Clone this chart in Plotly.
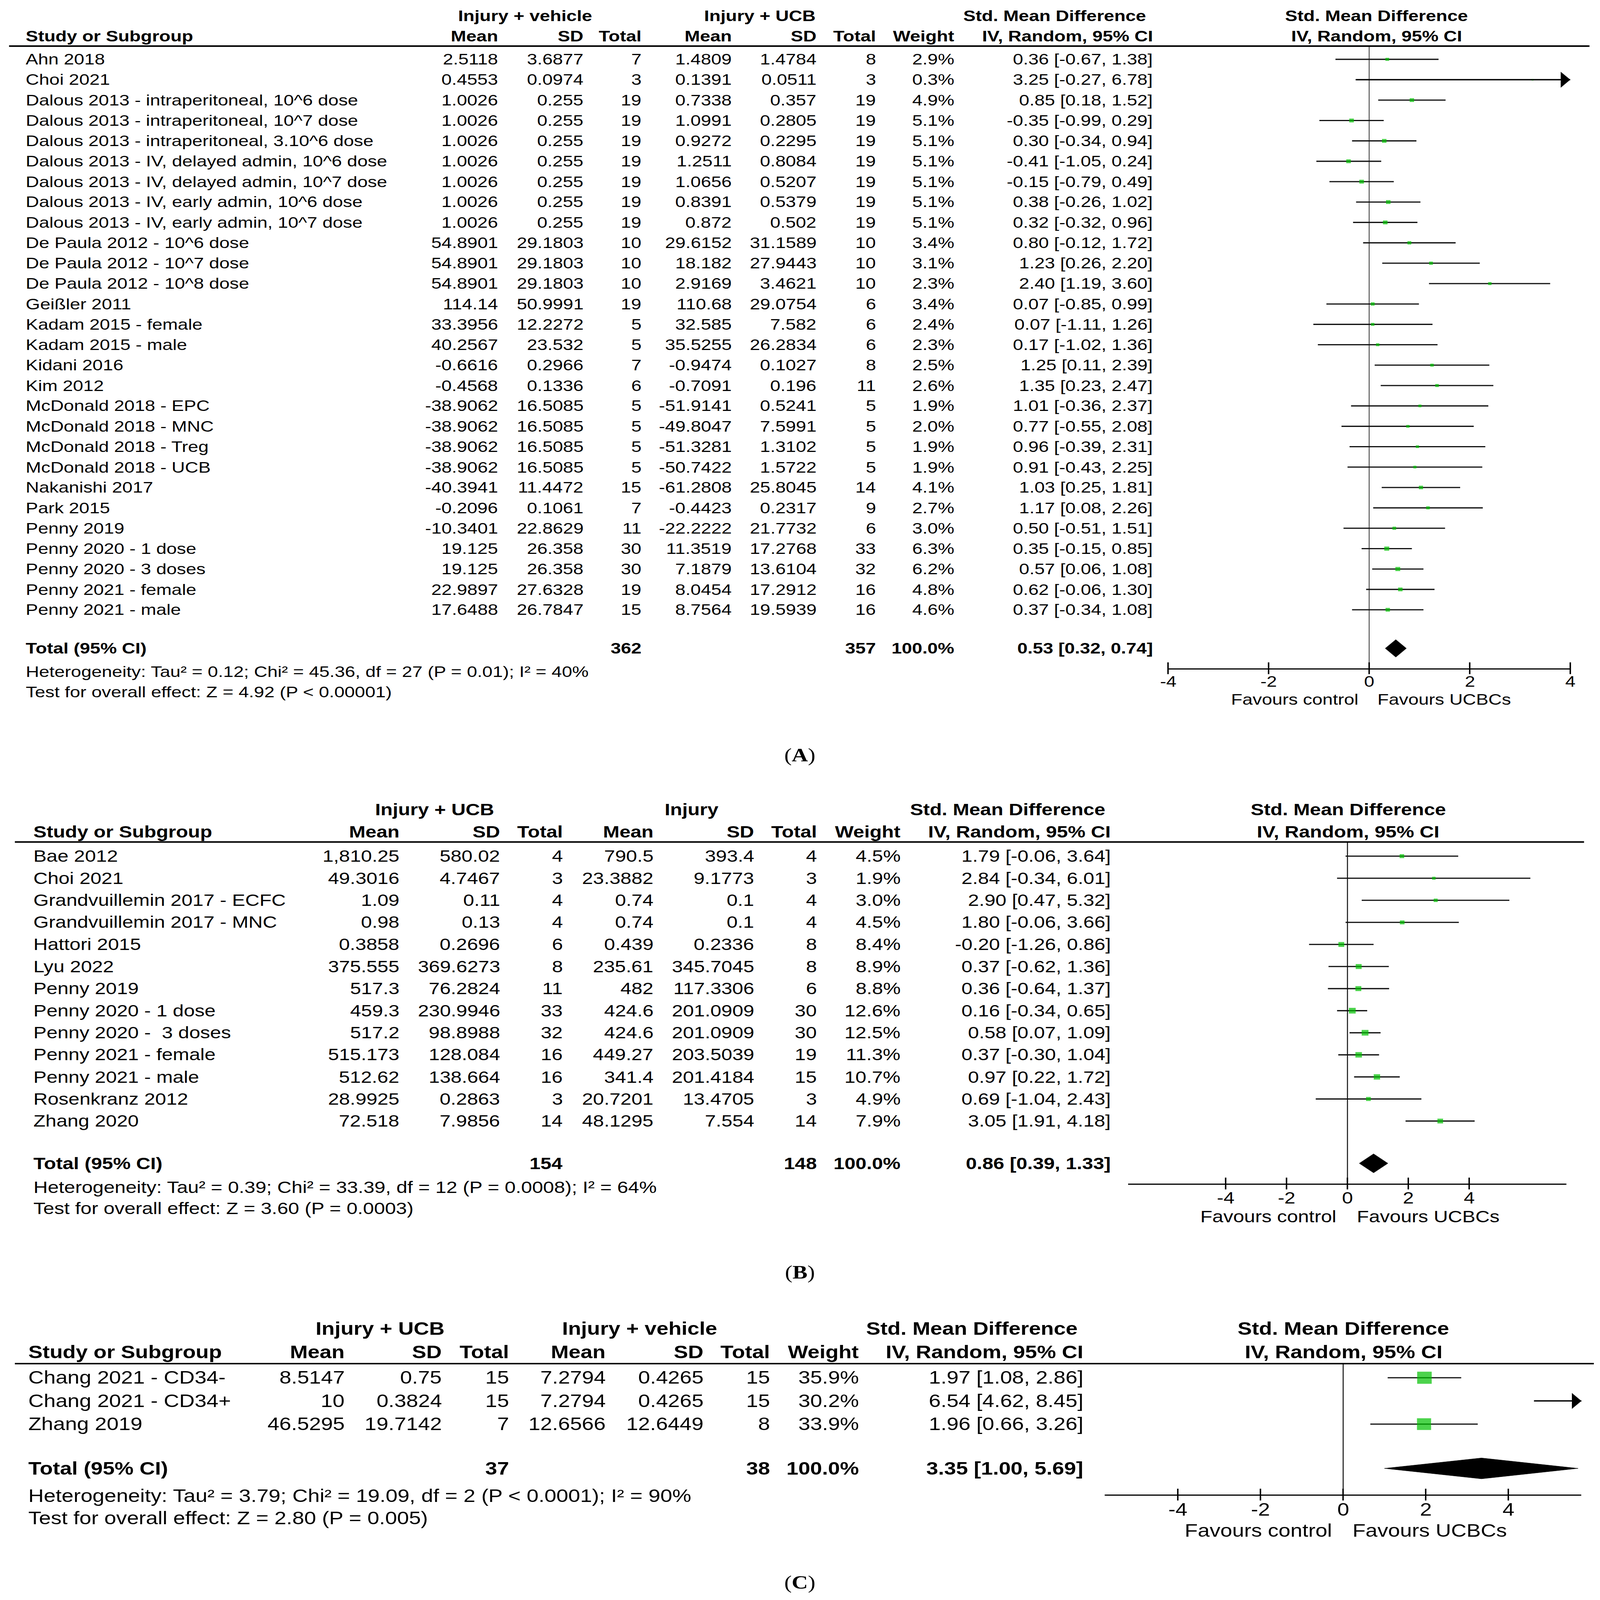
import plotly.graph_objects as go

W, H = 4415, 5313
SANS = "Liberation Sans, Arial, sans-serif"
SERIF = "Liberation Serif, Times New Roman, serif"
GREEN = "#00C000"

tick_vals = [-4, -2, 0, 2, 4]
tick_text = ["-4", "-2", "0", "2", "4"]
fav_left = "Favours control"
fav_right = "Favours UCBCs"

# ================= Panel A data =================
a_grp1 = "Injury + vehicle"
a_grp2 = "Injury + UCB"
a_study = ["Ahn 2018", "Choi 2021",
           "Dalous 2013 - intraperitoneal, 10^6 dose",
           "Dalous 2013 - intraperitoneal, 10^7 dose",
           "Dalous 2013 - intraperitoneal, 3.10^6 dose",
           "Dalous 2013 - IV, delayed admin, 10^6 dose",
           "Dalous 2013 - IV, delayed admin, 10^7 dose",
           "Dalous 2013 - IV, early admin, 10^6 dose",
           "Dalous 2013 - IV, early admin, 10^7 dose",
           "De Paula 2012 - 10^6 dose", "De Paula 2012 - 10^7 dose",
           "De Paula 2012 - 10^8 dose", "Geißler 2011",
           "Kadam 2015 - female", "Kadam 2015 - male", "Kidani 2016",
           "Kim 2012", "McDonald 2018 - EPC", "McDonald 2018 - MNC",
           "McDonald 2018 - Treg", "McDonald 2018 - UCB", "Nakanishi 2017",
           "Park 2015", "Penny 2019", "Penny 2020 - 1 dose",
           "Penny 2020 - 3 doses", "Penny 2021 - female", "Penny 2021 - male"]
a_mean1 = [2.5118, 0.4553, 1.0026, 1.0026, 1.0026, 1.0026, 1.0026, 1.0026, 1.0026,
           54.8901, 54.8901, 54.8901, 114.14, 33.3956, 40.2567, -0.6616, -0.4568,
           -38.9062, -38.9062, -38.9062, -38.9062, -40.3941, -0.2096, -10.3401,
           19.125, 19.125, 22.9897, 17.6488]
a_sd1 = [3.6877, 0.0974, 0.255, 0.255, 0.255, 0.255, 0.255, 0.255, 0.255,
         29.1803, 29.1803, 29.1803, 50.9991, 12.2272, 23.532, 0.2966, 0.1336,
         16.5085, 16.5085, 16.5085, 16.5085, 11.4472, 0.1061, 22.8629,
         26.358, 26.358, 27.6328, 26.7847]
a_n1 = [7, 3, 19, 19, 19, 19, 19, 19, 19, 10, 10, 10, 19, 5, 5, 7, 6, 5, 5, 5, 5,
        15, 7, 11, 30, 30, 19, 15]
a_mean2 = [1.4809, 0.1391, 0.7338, 1.0991, 0.9272, 1.2511, 1.0656, 0.8391, 0.872,
           29.6152, 18.182, 2.9169, 110.68, 32.585, 35.5255, -0.9474, -0.7091,
           -51.9141, -49.8047, -51.3281, -50.7422, -61.2808, -0.4423, -22.2222,
           11.3519, 7.1879, 8.0454, 8.7564]
a_sd2 = [1.4784, 0.0511, 0.357, 0.2805, 0.2295, 0.8084, 0.5207, 0.5379, 0.502,
         31.1589, 27.9443, 3.4621, 29.0754, 7.582, 26.2834, 0.1027, 0.196,
         0.5241, 7.5991, 1.3102, 1.5722, 25.8045, 0.2317, 21.7732,
         17.2768, 13.6104, 17.2912, 19.5939]
a_n2 = [8, 3, 19, 19, 19, 19, 19, 19, 19, 10, 10, 10, 6, 6, 6, 8, 11, 5, 5, 5, 5,
        14, 9, 6, 33, 32, 16, 16]
a_weight = [2.9, 0.3, 4.9, 5.1, 5.1, 5.1, 5.1, 5.1, 5.1, 3.4, 3.1, 2.3, 3.4, 2.4,
            2.3, 2.5, 2.6, 1.9, 2.0, 1.9, 1.9, 4.1, 2.7, 3.0, 6.3, 6.2, 4.8, 4.6]
a_smd = [0.36, 3.25, 0.85, -0.35, 0.30, -0.41, -0.15, 0.38, 0.32, 0.80, 1.23, 2.40,
         0.07, 0.07, 0.17, 1.25, 1.35, 1.01, 0.77, 0.96, 0.91, 1.03, 1.17, 0.50,
         0.35, 0.57, 0.62, 0.37]
a_lo = [-0.67, -0.27, 0.18, -0.99, -0.34, -1.05, -0.79, -0.26, -0.32, -0.12, 0.26,
        1.19, -0.85, -1.11, -1.02, 0.11, 0.23, -0.36, -0.55, -0.39, -0.43, 0.25,
        0.08, -0.51, -0.15, 0.06, -0.06, -0.34]
a_hi = [1.38, 6.78, 1.52, 0.29, 0.94, 0.24, 0.49, 1.02, 0.96, 1.72, 2.20, 3.60,
        0.99, 1.26, 1.36, 2.39, 2.47, 2.37, 2.08, 2.31, 2.25, 1.81, 2.26, 1.51,
        0.85, 1.08, 1.30, 1.08]
a_tot_n1 = 362
a_tot_n2 = 357
a_pool = [0.53, 0.32, 0.74]
a_het = "Heterogeneity: Tau² = 0.12; Chi² = 45.36, df = 27 (P = 0.01); I² = 40%"
a_test = "Test for overall effect: Z = 4.92 (P < 0.00001)"

# ================= Panel B data =================
b_grp1 = "Injury + UCB"
b_grp2 = "Injury"
b_study = ["Bae 2012", "Choi 2021", "Grandvuillemin 2017 - ECFC",
           "Grandvuillemin 2017 - MNC", "Hattori 2015", "Lyu 2022", "Penny 2019",
           "Penny 2020 - 1 dose", "Penny 2020 -  3 doses", "Penny 2021 - female",
           "Penny 2021 - male", "Rosenkranz 2012", "Zhang 2020"]
b_mean1 = [1810.25, 49.3016, 1.09, 0.98, 0.3858, 375.555, 517.3, 459.3, 517.2,
           515.173, 512.62, 28.9925, 72.518]
b_sd1 = [580.02, 4.7467, 0.11, 0.13, 0.2696, 369.6273, 76.2824, 230.9946, 98.8988,
         128.084, 138.664, 0.2863, 7.9856]
b_n1 = [4, 3, 4, 4, 6, 8, 11, 33, 32, 16, 16, 3, 14]
b_mean2 = [790.5, 23.3882, 0.74, 0.74, 0.439, 235.61, 482, 424.6, 424.6, 449.27,
           341.4, 20.7201, 48.1295]
b_sd2 = [393.4, 9.1773, 0.1, 0.1, 0.2336, 345.7045, 117.3306, 201.0909, 201.0909,
         203.5039, 201.4184, 13.4705, 7.554]
b_n2 = [4, 3, 4, 4, 8, 8, 6, 30, 30, 19, 15, 3, 14]
b_weight = [4.5, 1.9, 3.0, 4.5, 8.4, 8.9, 8.8, 12.6, 12.5, 11.3, 10.7, 4.9, 7.9]
b_smd = [1.79, 2.84, 2.90, 1.80, -0.20, 0.37, 0.36, 0.16, 0.58, 0.37, 0.97, 0.69, 3.05]
b_lo = [-0.06, -0.34, 0.47, -0.06, -1.26, -0.62, -0.64, -0.34, 0.07, -0.30, 0.22,
        -1.04, 1.91]
b_hi = [3.64, 6.01, 5.32, 3.66, 0.86, 1.36, 1.37, 0.65, 1.09, 1.04, 1.72, 2.43, 4.18]
b_tot_n1 = 154
b_tot_n2 = 148
b_pool = [0.86, 0.39, 1.33]
b_het = "Heterogeneity: Tau² = 0.39; Chi² = 33.39, df = 12 (P = 0.0008); I² = 64%"
b_test = "Test for overall effect: Z = 3.60 (P = 0.0003)"

# ================= Panel C data =================
c_grp1 = "Injury + UCB"
c_grp2 = "Injury + vehicle"
c_study = ["Chang 2021 - CD34-", "Chang 2021 - CD34+", "Zhang 2019"]
c_mean1 = [8.5147, 10, 46.5295]
c_sd1 = [0.75, 0.3824, 19.7142]
c_n1 = [15, 15, 7]
c_mean2 = [7.2794, 7.2794, 12.6566]
c_sd2 = [0.4265, 0.4265, 12.6449]
c_n2 = [15, 15, 8]
c_weight = [35.9, 30.2, 33.9]
c_smd = [1.97, 6.54, 1.96]
c_lo = [1.08, 4.62, 0.66]
c_hi = [2.86, 8.45, 3.26]
c_tot_n1 = 37
c_tot_n2 = 38
c_pool = [3.35, 1.00, 5.69]
c_het = "Heterogeneity: Tau² = 3.79; Chi² = 19.09, df = 2 (P < 0.0001); I² = 90%"
c_test = "Test for overall effect: Z = 2.80 (P = 0.005)"

# ================= Layout geometry (pixels of the 4415x5313 design) =================
geom_a = dict(font=51, h1=53, h2=120, line_y=153, line_x=(25, 4386),
              row0=197, dy=67.7, tot_y=2153, het_y=2230, test_y=2297,
              name_x=70, cols=[1375, 1611, 1771, 2020, 2254, 2418, 2634, 3182],
              g1x=1449, g2x=2096, smdx=2910, plotx=3798,
              zero=3778, unit=138.75, xr=4.0, axis_y=2219, tick_y=2262, fav_y=2322,
              gapl=28, gapr=21, lab=("A", 2207, 2507), box=(3.0, 4.3), dh=0.43)
geom_b = dict(font=54.5, h1=2688, h2=2762, line_y=2796, line_x=(41, 4371),
              row0=2843, dy=73.3, tot_y=3863, het_y=3943, test_y=4013,
              name_x=91, cols=[1103, 1381, 1554, 1804, 2082, 2255, 2486, 3066],
              g1x=1200, g2x=1908, smdx=2780, plotx=3720,
              zero=3718, unit=84.0, xr=7.2, axis_y=3930, tick_y=3977, fav_y=4040,
              gapl=28, gapr=24, lab=("B", 2207, 4224), box=(4.0, 4.2), dh=0.43)
geom_c = dict(font=59, h1=4412, h2=4490, line_y=4528, line_x=(41, 4398),
              row0=4575, dy=77.0, tot_y=4876, het_y=4968, test_y=5041,
              name_x=77, cols=[952, 1220, 1406, 1672, 1942, 2126, 2371, 2990],
              g1x=1049, g2x=1765, smdx=2682, plotx=3707,
              zero=3706, unit=114.0, xr=5.77, axis_y=4963, tick_y=5013, fav_y=5083,
              gapl=28, gapr=24, lab=("C", 2207, 5255), box=(0.0, 6.7), dh=0.45)


def px(x):
    return x / W


def py(y):
    return 1 - y / H


def fmt(v):
    return f"{v:,}"


fig = go.Figure()
annotations = []
shapes = []


def add_text(x, y, s, anchor="right", size=49, bold=False, family=SANS):
    annotations.append(dict(
        xref="paper", yref="paper", x=px(x), y=py(y),
        text=f"<b>{s}</b>" if bold else s, showarrow=False,
        xanchor=anchor, yanchor="middle", borderpad=0,
        font=dict(size=size, family=family, color="black")))


def draw_panel(k, g, grp1, grp2, study, m1, s1, n1, m2, s2, n2, wt, smd, lo, hi,
               tn1, tn2, pool, het, test):
    xa = "x" if k == 1 else f"x{k}"
    ya = "y" if k == 1 else f"y{k}"
    fs = g["font"]
    n = len(study)

    def ry(i):
        return g["row0"] + g["dy"] * i

    add_text(g["g1x"], g["h1"], grp1, "center", fs, True)
    add_text(g["g2x"], g["h1"], grp2, "center", fs, True)
    add_text(g["smdx"], g["h1"], "Std. Mean Difference", "center", fs, True)
    add_text(g["plotx"], g["h1"], "Std. Mean Difference", "center", fs, True)
    add_text(g["name_x"], g["h2"], "Study or Subgroup", "left", fs, True)
    heads = ["Mean", "SD", "Total", "Mean", "SD", "Total", "Weight",
             "IV, Random, 95% CI"]
    for cx, h in zip(g["cols"], heads):
        add_text(cx, g["h2"], h, "right", fs, True)
    add_text(g["plotx"], g["h2"], "IV, Random, 95% CI", "center", fs, True)
    shapes.append(dict(type="line", xref="paper", yref="paper",
                       x0=px(g["line_x"][0]), x1=px(g["line_x"][1]),
                       y0=py(g["line_y"]), y1=py(g["line_y"]),
                       line=dict(color="black", width=5)))

    c = g["cols"]
    for i in range(n):
        y = ry(i)
        add_text(g["name_x"], y, study[i], "left", fs)
        for cx, val in zip(c[:6], [m1[i], s1[i], n1[i], m2[i], s2[i], n2[i]]):
            add_text(cx, y, fmt(val), "right", fs)
        add_text(c[6], y, f"{wt[i]:.1f}%", "right", fs)
        add_text(c[7], y, f"{smd[i]:.2f} [{lo[i]:.2f}, {hi[i]:.2f}]", "right", fs)

    ty = g["tot_y"]
    add_text(g["name_x"], ty, "Total (95% CI)", "left", fs, True)
    add_text(c[2], ty, str(tn1), "right", fs, True)
    add_text(c[5], ty, str(tn2), "right", fs, True)
    add_text(c[6], ty, "100.0%", "right", fs, True)
    add_text(c[7], ty, f"{pool[0]:.2f} [{pool[1]:.2f}, {pool[2]:.2f}]", "right", fs, True)
    add_text(g["name_x"], g["het_y"], het, "left", fs)
    add_text(g["name_x"], g["test_y"], test, "left", fs)

    lab, lx, lyy = g["lab"]
    add_text(lx, lyy, f"(<b>{lab}</b>)", "center", 62, False, SERIF)

    xr = g["xr"]
    x0 = g["zero"] - xr * g["unit"]
    x1 = g["zero"] + xr * g["unit"]
    ybot = (g["axis_y"] - g["row0"]) / g["dy"]
    ytop = (g["line_y"] - g["row0"]) / g["dy"]
    vt = (g["tot_y"] - g["row0"]) / g["dy"]
    fig.update_layout(**{
        ("xaxis" if k == 1 else f"xaxis{k}"): dict(
            domain=[px(x0), px(x1)], range=[-xr, xr], anchor=ya,
            showline=True, linecolor="black", linewidth=4,
            ticks="", showticklabels=False,
            showgrid=False, zeroline=True, zerolinecolor="#333333",
            zerolinewidth=3, fixedrange=True),
        ("yaxis" if k == 1 else f"yaxis{k}"): dict(
            domain=[py(g["axis_y"]), py(g["line_y"])], range=[ybot, ytop],
            anchor=xa, visible=False, fixedrange=True),
    })

    rows = list(range(n))
    lx_, ly_ = [], []
    for i in rows:
        lx_ += [lo[i], hi[i], None]
        ly_ += [i, i, None]
    fig.add_trace(go.Scatter(x=lx_, y=ly_, mode="lines", xaxis=xa, yaxis=ya,
                             line=dict(color="#111111", width=4),
                             hoverinfo="skip", showlegend=False))
    b0, b1 = g["box"]
    fig.add_trace(go.Scatter(x=smd, y=rows, mode="markers", xaxis=xa, yaxis=ya,
                             marker=dict(symbol="square", color=GREEN,
                                         size=[b0 + b1 * w ** 0.5 for w in wt],
                                         line=dict(width=0)),
                             showlegend=False))
    h = g["dh"]
    fig.add_trace(go.Scatter(x=[pool[1], pool[0], pool[2], pool[0], pool[1]],
                             y=[vt, vt - h, vt, vt + h, vt], mode="lines",
                             fill="toself", fillcolor="black",
                             line=dict(color="black", width=1),
                             xaxis=xa, yaxis=ya, showlegend=False))
    fig.add_trace(go.Scatter(x=tick_vals, y=[ybot] * len(tick_vals), mode="markers",
                             xaxis=xa, yaxis=ya, cliponaxis=False,
                             marker=dict(symbol="line-ns", size=28,
                                         line=dict(width=4, color="black")),
                             hoverinfo="skip", showlegend=False))
    for tv, tt in zip(tick_vals, tick_text):
        annotations.append(dict(xref=xa, yref="paper", x=tv, y=py(g["tick_y"]),
                                text=tt, showarrow=False, xanchor="center",
                                yanchor="middle",
                                font=dict(size=fs, family=SANS, color="black")))
    for i in rows:
        if hi[i] > xr:
            annotations.append(dict(
                xref=xa, yref=ya, x=xr, y=i, axref=xa, ayref=ya,
                ax=max(lo[i], -xr), ay=i, text="", showarrow=True,
                arrowhead=1, arrowsize=2.2, arrowwidth=4, arrowcolor="black"))
    annotations.append(dict(xref=xa, yref="paper", x=0, y=py(g["fav_y"]),
                            text=fav_left, showarrow=False, xanchor="right",
                            yanchor="middle", xshift=-g["gapl"],
                            font=dict(size=fs, family=SANS, color="black")))
    annotations.append(dict(xref=xa, yref="paper", x=0, y=py(g["fav_y"]),
                            text=fav_right, showarrow=False, xanchor="left",
                            yanchor="middle", xshift=g["gapr"],
                            font=dict(size=fs, family=SANS, color="black")))


draw_panel(1, geom_a, a_grp1, a_grp2, a_study, a_mean1, a_sd1, a_n1, a_mean2,
           a_sd2, a_n2, a_weight, a_smd, a_lo, a_hi, a_tot_n1, a_tot_n2, a_pool,
           a_het, a_test)
draw_panel(2, geom_b, b_grp1, b_grp2, b_study, b_mean1, b_sd1, b_n1, b_mean2,
           b_sd2, b_n2, b_weight, b_smd, b_lo, b_hi, b_tot_n1, b_tot_n2, b_pool,
           b_het, b_test)
draw_panel(3, geom_c, c_grp1, c_grp2, c_study, c_mean1, c_sd1, c_n1, c_mean2,
           c_sd2, c_n2, c_weight, c_smd, c_lo, c_hi, c_tot_n1, c_tot_n2, c_pool,
           c_het, c_test)

fig.update_layout(width=W, height=H, margin=dict(l=0, r=0, t=0, b=0),
                  paper_bgcolor="white", plot_bgcolor="rgba(0,0,0,0)",
                  showlegend=False, annotations=annotations, shapes=shapes,
                  font=dict(family=SANS, color="black"))

# The figure is laid out at 4415x5313; if the browser viewport is a different
# size, scale the whole figure so that it exactly fills the viewport.
fit_js = """
(function () {
  var gd = document.getElementById('{plot_id}');
  document.documentElement.style.margin = '0';
  document.body.style.margin = '0';
  document.documentElement.style.overflow = 'hidden';
  document.body.style.overflow = 'hidden';
  gd.style.position = 'absolute';
  gd.style.left = '0px';
  gd.style.top = '0px';
  gd.style.transformOrigin = '0 0';
  function fit() {
    var sx = window.innerWidth / %d, sy = window.innerHeight / %d;
    gd.style.transform = 'scale(' + sx + ',' + sy + ')';
  }
  fit();
  window.addEventListener('resize', fit);
})();
""" % (W, H)

fig.write_html("out.html", post_script=fit_js,
               config={"displayModeBar": False, "staticPlot": True})
